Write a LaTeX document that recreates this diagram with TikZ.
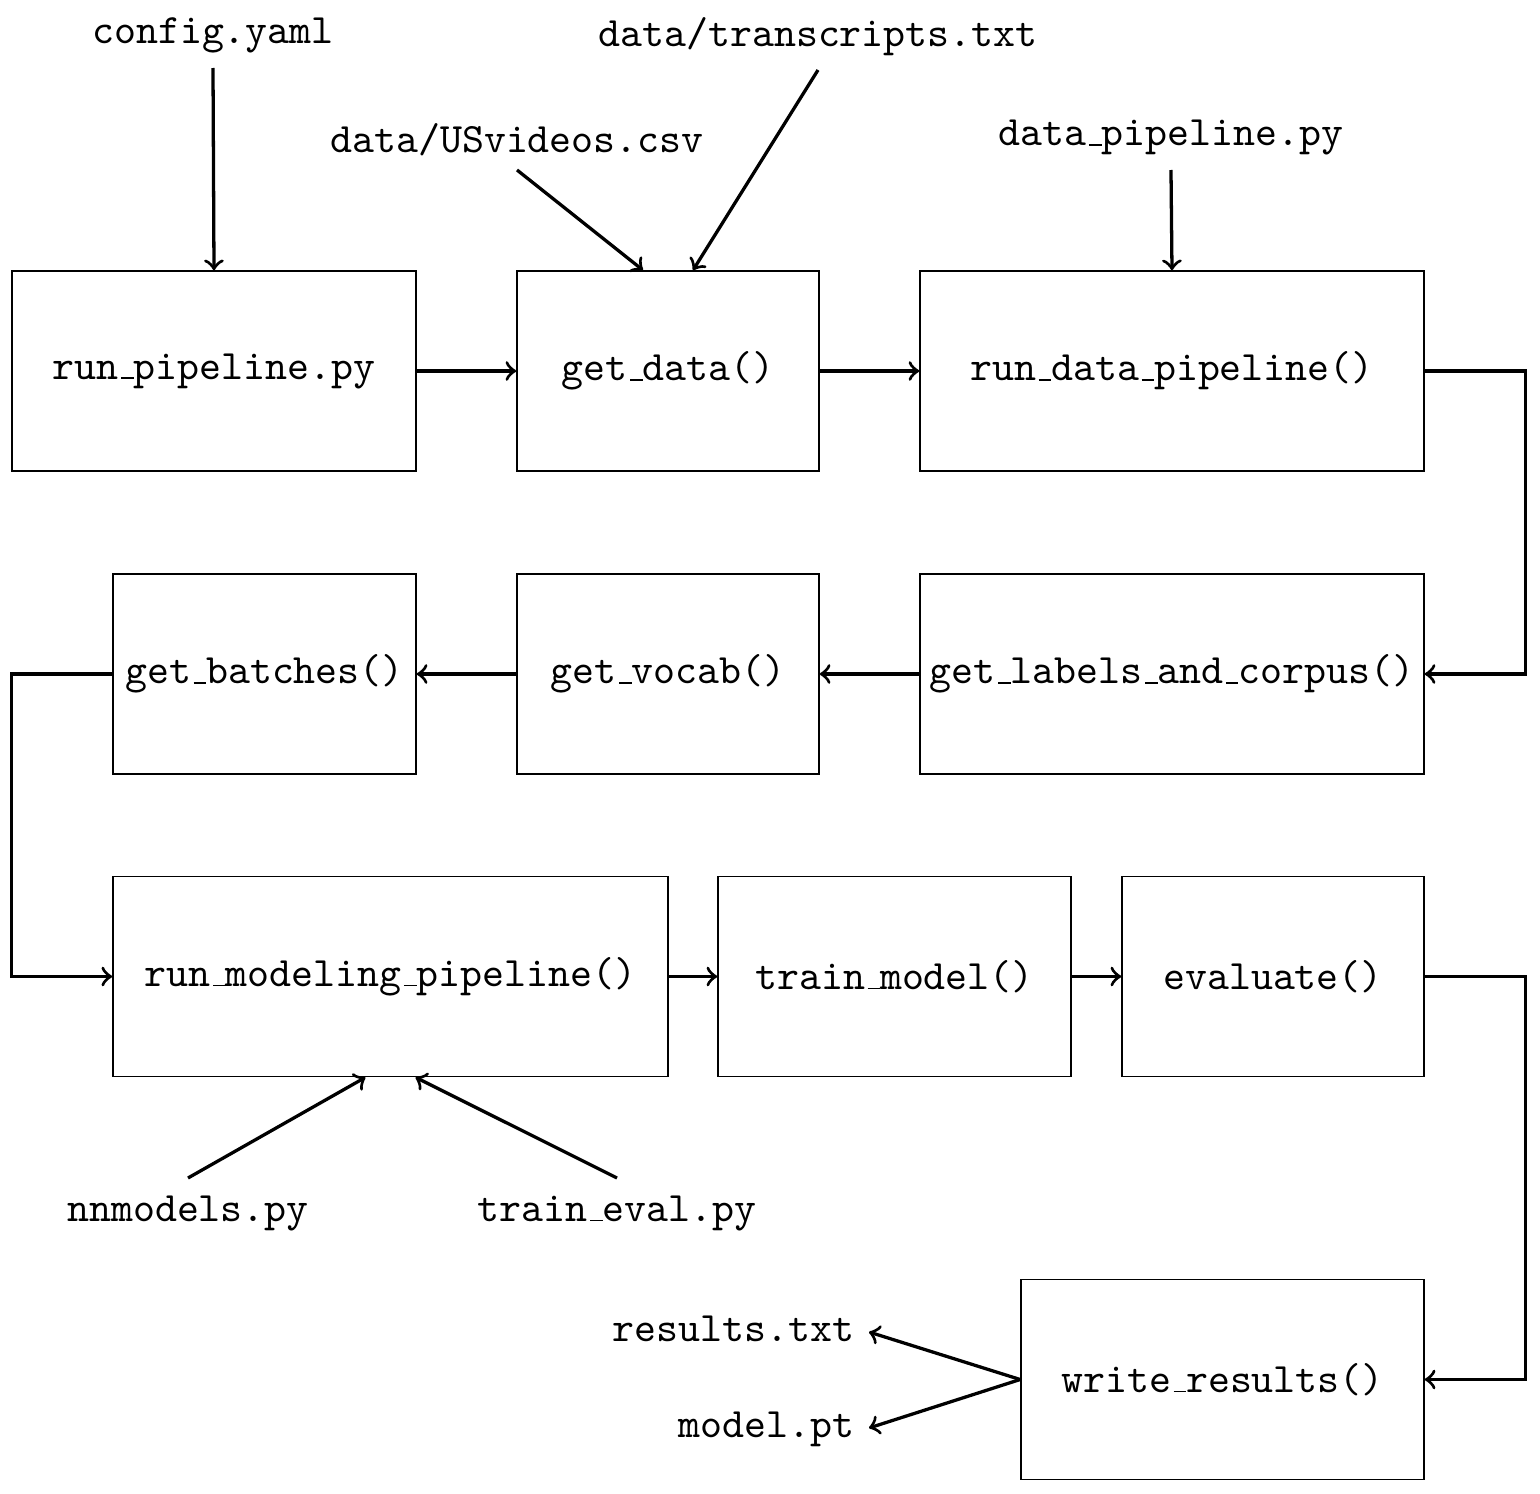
\documentclass[tikz,border=0pt]{standalone}
\usetikzlibrary{arrows}
\newcommand{\us}{\leavevmode\kern.06em\vbox{\hrule width .3em}}
\begin{document}
\begin{tikzpicture}[x=0.2439pt,y=-0.2439pt,
  every node/.style={font=\fontsize{10.2}{12}\ttfamily},
  box/.style={draw,thin,minimum height=48.78pt,inner sep=0pt},
  lbl/.style={inner sep=0.3333em},
  lblfix/.style={lbl,text height=0.7em,text depth=0.22em},
  conn/.style={thick,->,>=to}]
\useasboundingbox (0,0) rectangle (1540,1494);
% row 1
\node[box,minimum width=98.5pt]  (runpipe) at (214,371)   {run\us pipeline.py};
\node[box,minimum width=73.66pt] (getdata) at (668,371)   {get\us data()};
\node[box,minimum width=122.9pt] (rundata) at (1172,371)  {run\us data\us pipeline()};
% row 2
\node[box,minimum width=73.9pt]  (batches) at (264.5,674) {get\us batches()};
\node[box,minimum width=73.66pt] (vocab)   at (668,674)   {get\us vocab()};
\node[box,minimum width=122.9pt] (labels)  at (1172,674)  {get\us labels\us and\us corpus()};
% row 3
\node[box,minimum width=135.4pt] (runmod)  at (390.5,976.5) {run\us modeling\us pipeline()};
\node[box,minimum width=86.1pt]  (train)   at (894.5,976.5) {train\us model()};
\node[box,minimum width=73.66pt] (eval)    at (1273,976.5)  {evaluate()};
% row 4
\node[box,minimum width=98.3pt]  (write)   at (1222.5,1379.5) {write\us results()};
% labels
\node[lbl,anchor=south] (config) at (213,68)  {config.yaml};
\node[lbl,anchor=south] (trans)  at (818,70)  {data/transcripts.txt};
\node[lbl,anchor=south] (usv)    at (517,170) {data/USvideos.csv};
\node[lbl,anchor=south] (dpp)    at (1171,170) {data\us pipeline.py};
\node[lblfix,anchor=north] (nnm) at (188,1178) {nnmodels.py};
\node[lblfix,anchor=north] (tev) at (617,1178) {train\us eval.py};
\node[lblfix,anchor=east]  (res)   at (869,1332) {results.txt};
\node[lblfix,anchor=east]  (model) at (869,1428) {model.pt};
% connectors
\draw[conn] (config.south) -- (runpipe.north);
\draw[conn] (usv.south) -- ([xshift=-6.1pt]getdata.north);
\draw[conn] (trans.south) -- ([xshift=6.1pt]getdata.north);
\draw[conn] (dpp.south) -- (rundata.north);
\draw[conn] (runpipe.east) -- (getdata.west);
\draw[conn] (getdata.east) -- (rundata.west);
\draw[conn] (rundata.east) -- ++(101,0) |- (labels.east);
\draw[conn] (labels.west) -- (vocab.east);
\draw[conn] (vocab.west) -- (batches.east);
\draw[conn] (batches.west) -- ++(-101,0) |- (runmod.west);
\draw[conn] (runmod.east) -- (train.west);
\draw[conn] (train.east) -- (eval.west);
\draw[conn] (eval.east) -- ++(101,0) |- (write.east);
\draw[conn] (nnm.north) -- ([xshift=-6.1pt]runmod.south);
\draw[conn] (tev.north) -- ([xshift=6.1pt]runmod.south);
\draw[conn] (write.west) -- (res.east);
\draw[conn] (write.west) -- (model.east);
\end{tikzpicture}
\end{document}
